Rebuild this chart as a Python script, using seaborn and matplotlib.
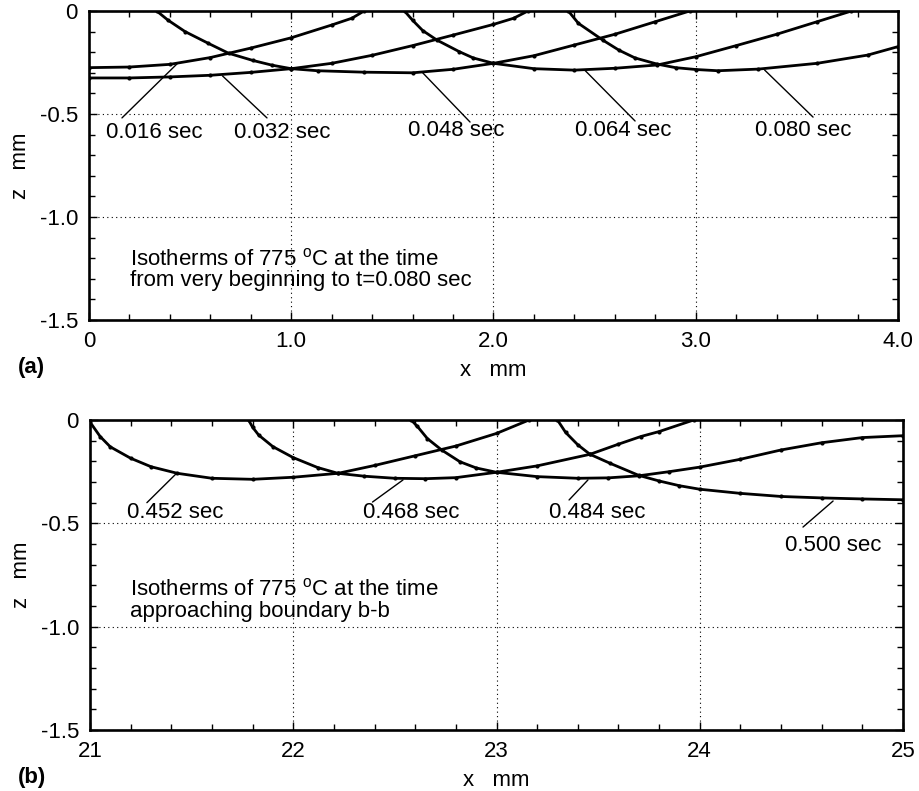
"""
Isotherms of 775 C — two panels, (a) start of process, (b) approaching boundary b-b
"""

import numpy as np
import pandas as pd
import matplotlib
matplotlib.use("Agg")
import matplotlib.pyplot as plt
import seaborn as sns
from matplotlib.ticker import MultipleLocator


# ─────────────────────────────────────────────
#  DATA
# ─────────────────────────────────────────────

# panel (a)
t016_x = [0.0, 0.2, 0.4, 0.6, 0.8, 1.0, 1.2, 1.3, 1.36]
t016_z = [-0.275, -0.272, -0.259, -0.226, -0.18, -0.13, -0.068, -0.035, 0.0]

t032_x = [0.0, 0.2, 0.4, 0.6, 0.8, 1.0, 1.2, 1.4, 1.6, 1.8, 2.0, 2.1, 2.17]
t032_z = [-0.325, -0.325, -0.32, -0.312, -0.298, -0.28, -0.254, -0.215,
          -0.168, -0.117, -0.065, -0.035, 0.0]

t048_x = [0.335, 0.39, 0.475, 0.59, 0.69, 0.81, 0.905, 1.0, 1.13, 1.36, 1.6,
          1.8, 2.0, 2.2, 2.4, 2.6, 2.8, 2.97]
t048_z = [0.0, -0.044, -0.10, -0.157, -0.205, -0.24, -0.263, -0.28, -0.29,
          -0.297, -0.30, -0.283, -0.254, -0.217, -0.165, -0.113, -0.052, 0.0]

t064_x = [1.56, 1.6, 1.65, 1.72, 1.83, 1.9, 2.0, 2.2, 2.4, 2.6, 2.81, 3.0,
          3.2, 3.4, 3.6, 3.77]
t064_z = [0.0, -0.045, -0.095, -0.141, -0.197, -0.228, -0.254, -0.28, -0.287,
          -0.278, -0.262, -0.222, -0.168, -0.113, -0.052, 0.0]

t080_x = [2.37, 2.42, 2.54, 2.62, 2.7, 2.81, 2.9, 3.0, 3.11, 3.31, 3.6, 3.85, 4.0]
t080_z = [0.0, -0.06, -0.141, -0.19, -0.228, -0.258, -0.275, -0.284, -0.29,
          -0.282, -0.254, -0.214, -0.173]

# panel (b)
t452_x = [21.0, 21.05, 21.1, 21.2, 21.3, 21.43, 21.6, 21.8, 22.0, 22.22, 22.4,
          22.6, 22.8, 23.0, 23.16]
t452_z = [-0.01, -0.08, -0.13, -0.185, -0.226, -0.258, -0.282, -0.287, -0.277,
          -0.258, -0.22, -0.173, -0.126, -0.065, 0.0]

t468_x = [21.78, 21.8, 21.83, 21.9, 22.0, 22.12, 22.22, 22.35, 22.5, 22.65,
          22.8, 23.0, 23.2, 23.46, 23.6, 23.71, 23.8, 23.97]
t468_z = [0.0, -0.035, -0.073, -0.129, -0.182, -0.23, -0.258, -0.272, -0.282,
          -0.284, -0.279, -0.253, -0.222, -0.166, -0.117, -0.08, -0.056, 0.0]

t484_x = [22.58, 22.61, 22.66, 22.73, 22.82, 22.9, 23.0, 23.2, 23.4, 23.55,
          23.7, 23.85, 24.0, 24.2, 24.4, 24.6, 24.8, 25.0]
t484_z = [0.0, -0.03, -0.09, -0.145, -0.202, -0.232, -0.253, -0.274, -0.282,
          -0.28, -0.27, -0.25, -0.228, -0.19, -0.145, -0.11, -0.085, -0.076]

t500_x = [23.3, 23.34, 23.4, 23.46, 23.56, 23.7, 23.8, 23.9, 24.0, 24.2, 24.4,
          24.6, 24.8, 25.0]
t500_z = [0.0, -0.06, -0.12, -0.166, -0.21, -0.268, -0.295, -0.318, -0.335,
          -0.355, -0.37, -0.377, -0.382, -0.386]

times_a = ["0.016 sec", "0.032 sec", "0.048 sec", "0.064 sec", "0.080 sec"]
times_b = ["0.452 sec", "0.468 sec", "0.484 sec", "0.500 sec"]

y_ticks = [0, -0.5, -1.0, -1.5]
y_ticklabels = ["0", "-0.5", "-1.0", "-1.5"]
xa_ticks = [0, 1, 2, 3, 4]
xa_ticklabels = ["0", "1.0", "2.0", "3.0", "4.0"]
xb_ticks = [21, 22, 23, 24, 25]
xb_ticklabels = ["21", "22", "23", "24", "25"]


def long_form(names, xs, zs):
    frames = [pd.DataFrame({"x": x, "z": z, "time": n}) for n, x, z in zip(names, xs, zs)]
    return pd.concat(frames, ignore_index=True)


df_a = long_form(times_a, [t016_x, t032_x, t048_x, t064_x, t080_x],
                 [t016_z, t032_z, t048_z, t064_z, t080_z])
df_b = long_form(times_b, [t452_x, t468_x, t484_x, t500_x],
                 [t452_z, t468_z, t484_z, t500_z])


# ─────────────────────────────────────────────
#  STYLE
# ─────────────────────────────────────────────

sns.set_theme(style="ticks")
plt.rcParams["font.family"] = ["Liberation Sans", "DejaVu Sans"]
plt.rcParams["mathtext.fontset"] = "custom"
plt.rcParams["mathtext.rm"] = "Liberation Sans"
plt.rcParams["mathtext.it"] = "Liberation Sans"
plt.rcParams["text.color"] = "black"
plt.rcParams["axes.labelcolor"] = "black"
FS = 16


def style_axes(ax, xlim, xticks, xticklabels, xminor):
    ax.set_xlim(*xlim)
    ax.set_ylim(-1.5, 0)
    ax.set_xticks(xticks, xticklabels)
    ax.set_yticks(y_ticks, y_ticklabels)
    ax.xaxis.set_minor_locator(MultipleLocator(xminor))
    ax.yaxis.set_minor_locator(MultipleLocator(0.1))
    ax.tick_params(which="both", direction="in", top=True, right=True,
                   color="black", width=1.0, labelsize=FS, pad=8,
                   labelcolor="black")
    ax.tick_params(which="major", length=6)
    ax.tick_params(which="minor", length=4)
    ax.grid(True, which="major", linestyle=(0, (1, 3)), color="black", lw=0.8)
    for sp in ax.spines.values():
        sp.set_linewidth(1.9)
        sp.set_color("black")
    ax.set_xlabel("x   mm", fontsize=FS, labelpad=6)
    ax.set_ylabel("z   mm", fontsize=FS, labelpad=6)


def draw_curves(ax, df):
    sns.lineplot(data=df, x="x", y="z", units="time", estimator=None,
                 color="black", lw=2.0, marker="o", markersize=3,
                 markeredgecolor="black", markeredgewidth=0, ax=ax,
                 legend=False)


def leader(ax, text, pt, end, txt_pos):
    ax.annotate("", xy=pt, xytext=end,
                arrowprops=dict(arrowstyle="-", color="black", lw=1.0,
                                shrinkA=0, shrinkB=0))
    ax.text(txt_pos[0], txt_pos[1], text, fontsize=FS, ha="left", va="center")


fig = plt.figure(figsize=(9.2, 7.91), dpi=100)
W, H = 920, 791
ax_a = fig.add_axes([89 / W, 1 - 320 / H, (898 - 89) / W, (320 - 11) / H])
ax_b = fig.add_axes([90 / W, 1 - 730 / H, (903 - 90) / W, (730 - 420) / H])

# ── panel (a) ──────────────────────────────
draw_curves(ax_a, df_a)
style_axes(ax_a, (0, 4), xa_ticks, xa_ticklabels, 0.2)

lab_a_pts = [(0.44, -0.252), (0.66, -0.315), (1.65, -0.30), (2.45, -0.286), (3.34, -0.286)]
lab_a_end = [(0.163, -0.519), (0.88, -0.519), (1.884, -0.539), (2.70, -0.534), (3.58, -0.515)]
lab_a_txt = [(0.084, -0.592), (0.717, -0.592), (1.577, -0.578), (2.403, -0.578), (3.293, -0.578)]
for t, p, e, tp in zip(times_a, lab_a_pts, lab_a_end, lab_a_txt):
    leader(ax_a, t, p, e, tp)

ax_a.text(0.203, -1.205, r"Isotherms of 775 $^{\rm o}$C at the time",
          fontsize=FS, va="center")
ax_a.text(0.203, -1.31, "from very beginning to t=0.080 sec",
          fontsize=FS, va="center")

# ── panel (b) ──────────────────────────────
draw_curves(ax_b, df_b)
style_axes(ax_b, (21, 25), xb_ticks, xb_ticklabels, 0.2)

lab_b_pts = [(21.428, -0.256), (22.54, -0.29), (23.45, -0.29), (24.656, -0.392)]
lab_b_end = [(21.28, -0.40), (22.39, -0.397), (23.357, -0.387), (24.508, -0.518)]
lab_b_txt = [(21.182, -0.45), (22.343, -0.45), (23.258, -0.45), (24.42, -0.605)]
for t, p, e, tp in zip(times_b, lab_b_pts, lab_b_end, lab_b_txt):
    leader(ax_b, t, p, e, tp)

ax_b.text(21.197, -0.822, r"Isotherms of 775 $^{\rm o}$C at the time",
          fontsize=FS, va="center")
ax_b.text(21.197, -0.927, "approaching boundary b-b",
          fontsize=FS, va="center")

fig.text(18 / W, 1 - 368 / H, "(a)", fontsize=FS, weight="bold", va="center")
fig.text(18 / W, 1 - 777 / H, "(b)", fontsize=FS, weight="bold", va="center")

plt.savefig("out.png", dpi=100)
plt.close()
